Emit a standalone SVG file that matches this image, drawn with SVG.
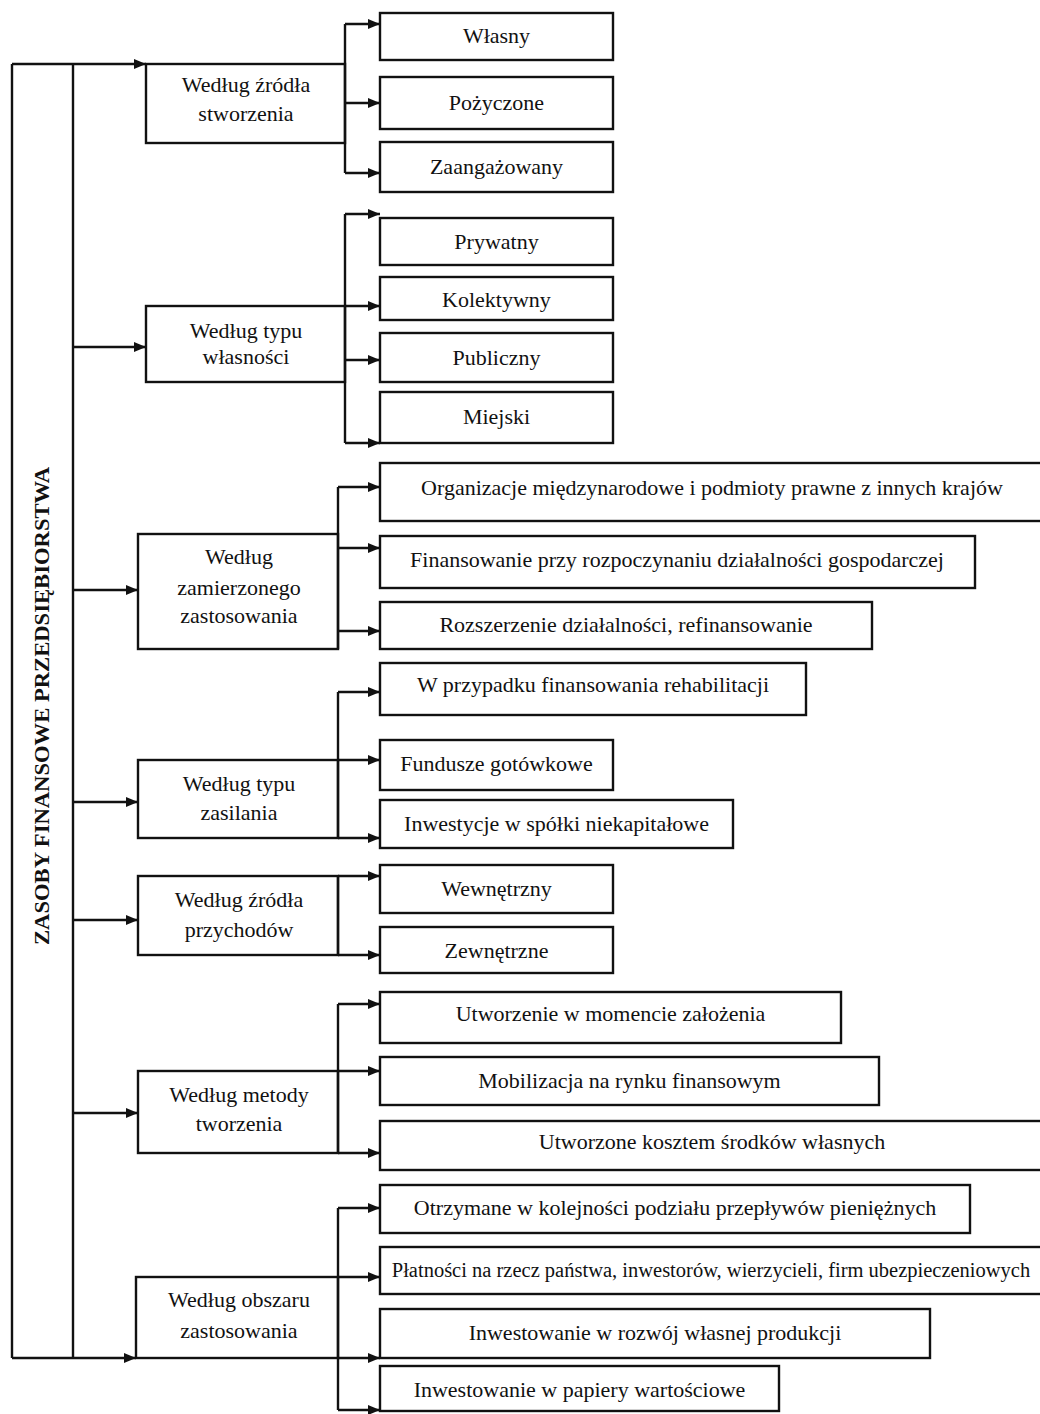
<svg xmlns="http://www.w3.org/2000/svg" width="1040" height="1414" viewBox="0 0 1040 1414">
<style>
.bx{fill:#fff;stroke:#111;stroke-width:2.4}
.ln{fill:none;stroke:#111;stroke-width:2.4}
.ar{fill:none;stroke:#111;stroke-width:2.4;marker-end:url(#ah)}
text{font-family:"Liberation Serif","Times New Roman",serif;font-size:22px;fill:#111;text-anchor:middle}
.ttl{font-weight:bold;font-size:21px}
.sm{font-size:20.5px}
</style>
<defs>
<marker id="ah" markerUnits="userSpaceOnUse" markerWidth="14" markerHeight="12" refX="12" refY="5" orient="auto">
<path d="M0,0 L12,5 L0,10 Z" fill="#111"/>
</marker>
</defs>
<rect width="1040" height="1414" fill="#fff"/>

<g id="root">
<text class="ttl" transform="translate(49,706) rotate(-90)" x="0" y="0" textLength="478" lengthAdjust="spacingAndGlyphs">ZASOBY FINANSOWE PRZEDSIĘBIORSTWA</text>
</g>

<g id="level1">
<g id="g1"><rect class="bx" x="146" y="64" width="199" height="79"/><text x="246" y="92">Według źródła</text><text x="246" y="121">stworzenia</text></g>
<g id="g2"><rect class="bx" x="146" y="306" width="199" height="76"/><text x="246" y="338">Według typu</text><text x="246" y="364">własności</text></g>
<g id="g3"><rect class="bx" x="138" y="534" width="200" height="115"/><text x="239" y="564">Według</text><text x="239" y="595">zamierzonego</text><text x="239" y="623">zastosowania</text></g>
<g id="g4"><rect class="bx" x="138" y="760" width="200" height="78"/><text x="239" y="791">Według typu</text><text x="239" y="820">zasilania</text></g>
<g id="g5"><rect class="bx" x="138" y="876" width="200" height="79"/><text x="239" y="907">Według źródła</text><text x="239" y="937">przychodów</text></g>
<g id="g6"><rect class="bx" x="138" y="1071" width="200" height="82"/><text x="239" y="1102">Według metody</text><text x="239" y="1131">tworzenia</text></g>
<g id="g7"><rect class="bx" x="136" y="1277" width="202" height="81"/><text x="239" y="1307">Według obszaru</text><text x="239" y="1338">zastosowania</text></g>
</g>

<g id="level2">
<g id="n1"><rect class="bx" x="380" y="13" width="233" height="47"/><text x="496.5" y="43">Własny</text></g>
<g id="n2"><rect class="bx" x="380" y="77" width="233" height="52"/><text x="496.5" y="110">Pożyczone</text></g>
<g id="n3"><rect class="bx" x="380" y="142" width="233" height="50"/><text x="496.5" y="174">Zaangażowany</text></g>
<g id="n4"><rect class="bx" x="380" y="218" width="233" height="47"/><text x="496.5" y="249">Prywatny</text></g>
<g id="n5"><rect class="bx" x="380" y="277" width="233" height="43"/><text x="496.5" y="307">Kolektywny</text></g>
<g id="n6"><rect class="bx" x="380" y="333" width="233" height="49"/><text x="496.5" y="365">Publiczny</text></g>
<g id="n7"><rect class="bx" x="380" y="392" width="233" height="51"/><text x="496.5" y="424">Miejski</text></g>
<g id="n8"><rect class="bx" x="380" y="463" width="670" height="58"/><text x="712" y="495">Organizacje międzynarodowe i podmioty prawne z innych krajów</text></g>
<g id="n9"><rect class="bx" x="380" y="536" width="595" height="52"/><text x="677" y="567">Finansowanie przy rozpoczynaniu działalności gospodarczej</text></g>
<g id="n10"><rect class="bx" x="380" y="602" width="492" height="47"/><text x="626" y="632">Rozszerzenie działalności, refinansowanie</text></g>
<g id="n11"><rect class="bx" x="380" y="663" width="426" height="52"/><text x="593" y="692">W przypadku finansowania rehabilitacji</text></g>
<g id="n12"><rect class="bx" x="380" y="740" width="233" height="50"/><text x="496.5" y="771">Fundusze gotówkowe</text></g>
<g id="n13"><rect class="bx" x="380" y="800" width="353" height="48"/><text x="556.5" y="831">Inwestycje w spółki niekapitałowe</text></g>
<g id="n14"><rect class="bx" x="380" y="865" width="233" height="48"/><text x="496.5" y="896">Wewnętrzny</text></g>
<g id="n15"><rect class="bx" x="380" y="927" width="233" height="46"/><text x="496.5" y="958">Zewnętrzne</text></g>
<g id="n16"><rect class="bx" x="380" y="992" width="461" height="51"/><text x="610.5" y="1021">Utworzenie w momencie założenia</text></g>
<g id="n17"><rect class="bx" x="380" y="1057" width="499" height="48"/><text x="629.5" y="1088">Mobilizacja na rynku finansowym</text></g>
<g id="n18"><rect class="bx" x="380" y="1121" width="670" height="49"/><text x="712" y="1149">Utworzone kosztem środków własnych</text></g>
<g id="n19"><rect class="bx" x="380" y="1185" width="590" height="48"/><text x="675" y="1215">Otrzymane w kolejności podziału przepływów pieniężnych</text></g>
<g id="n20"><rect class="bx" x="380" y="1247" width="670" height="47"/><text class="sm" x="711" y="1277">Płatności na rzecz państwa, inwestorów, wierzycieli, firm ubezpieczeniowych</text></g>
<g id="n21"><rect class="bx" x="380" y="1309" width="550" height="49"/><text x="655" y="1340">Inwestowanie w rozwój własnej produkcji</text></g>
<g id="n22"><rect class="bx" x="380" y="1366" width="399" height="45"/><text x="579.5" y="1397">Inwestowanie w papiery wartościowe</text></g>
</g>

<g id="connectors">
<path class="ln" d="M12,64 V1358 M73,64 V1358"/>
<path class="ar" d="M12,64 H146"/>
<path class="ar" d="M12,1358 H136"/>
<path class="ar" d="M73,347 H146"/>
<path class="ar" d="M73,590 H138"/>
<path class="ar" d="M73,802 H138"/>
<path class="ar" d="M73,920 H138"/>
<path class="ar" d="M73,1113 H138"/>

<path class="ln" d="M345,24 V173"/>
<path class="ar" d="M345,24 H380"/>
<path class="ar" d="M345,103 H380"/>
<path class="ar" d="M345,173 H380"/>

<path class="ln" d="M345,214 V443"/>
<path class="ar" d="M345,214 H380"/>
<path class="ar" d="M345,306 H380"/>
<path class="ar" d="M345,360 H380"/>
<path class="ar" d="M345,443 H380"/>

<path class="ln" d="M338,487 V649"/>
<path class="ar" d="M338,487 H380"/>
<path class="ar" d="M338,548 H380"/>
<path class="ar" d="M338,631 H380"/>

<path class="ln" d="M338,692 V838"/>
<path class="ar" d="M338,692 H380"/>
<path class="ar" d="M338,760 H380"/>
<path class="ar" d="M338,838 H380"/>

<path class="ln" d="M338,876 V955"/>
<path class="ar" d="M338,876 H380"/>
<path class="ar" d="M338,955 H380"/>

<path class="ln" d="M338,1004 V1153"/>
<path class="ar" d="M338,1004 H380"/>
<path class="ar" d="M338,1071 H380"/>
<path class="ar" d="M338,1153 H380"/>

<path class="ln" d="M338,1208 V1410"/>
<path class="ar" d="M338,1208 H380"/>
<path class="ar" d="M338,1277 H380"/>
<path class="ar" d="M338,1358 H380"/>
<path class="ar" d="M338,1410 H380"/>
</g>
</svg>
